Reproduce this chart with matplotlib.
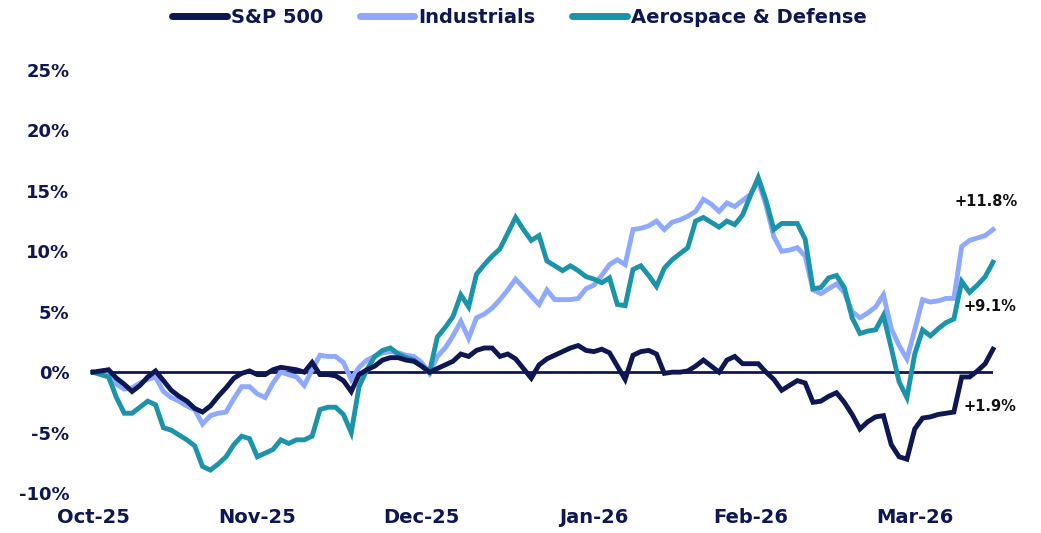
import matplotlib.pyplot as plt
import numpy as np

# cumulative return since 1 Oct 2025, in %, one value per trading day
sp500 = [0.0, 0.1, 0.2, -0.5, -1.0, -1.6, -1.1, -0.4, 0.1, -0.7,
         -1.5, -2.0, -2.4, -3.0, -3.3, -2.8, -2.0, -1.3, -0.5, -0.1,
         0.1, -0.2, -0.2, 0.2, 0.4, 0.3, 0.2, 0.0, 0.8, -0.2,
         -0.2, -0.3, -0.7, -1.6, -0.2, 0.2, 0.5, 1.0, 1.2, 1.2,
         1.0, 0.9, 0.5, 0.0, 0.3, 0.6, 0.9, 1.5, 1.3, 1.8,
         2.0, 2.0, 1.3, 1.5, 1.1, 0.3, -0.5, 0.6, 1.1, 1.4,
         1.7, 2.0, 2.2, 1.8, 1.7, 1.9, 1.6, 0.5, -0.6, 1.4,
         1.7, 1.8, 1.5, -0.1, 0.0, 0.0, 0.1, 0.5, 1.0, 0.5,
         0.0, 1.0, 1.3, 0.7, 0.7, 0.7, 0.0, -0.6, -1.5, -1.1,
         -0.7, -0.9, -2.5, -2.4, -2.0, -1.7, -2.5, -3.5, -4.7, -4.1,
         -3.7, -3.6, -6.0, -7.0, -7.2, -4.7, -3.8, -3.7, -3.5, -3.4,
         -3.3, -0.4, -0.4, 0.1, 0.7, 1.9]

industrials = [0.0, -0.1, -0.2, -1.0, -1.4, -1.3, -0.9, -0.6, -0.4, -1.6,
               -2.1, -2.4, -2.8, -3.1, -4.3, -3.6, -3.4, -3.3, -2.2, -1.2,
               -1.2, -1.8, -2.1, -0.9, 0.0, -0.2, -0.4, -1.1, 0.2, 1.4,
               1.3, 1.3, 0.8, -0.6, 0.4, 1.0, 1.3, 1.6, 1.7, 1.6,
               1.4, 1.3, 0.8, -0.1, 1.3, 2.0, 3.0, 4.2, 2.8, 4.5,
               4.8, 5.3, 6.0, 6.8, 7.7, 7.0, 6.3, 5.6, 6.8, 6.0,
               6.0, 6.0, 6.1, 6.9, 7.2, 8.0, 8.9, 9.3, 8.9, 11.8,
               11.9, 12.1, 12.5, 11.8, 12.4, 12.6, 12.9, 13.3, 14.3, 13.9,
               13.3, 14.0, 13.7, 14.2, 14.7, 15.8, 13.8, 11.2, 10.0, 10.1,
               10.3, 9.6, 6.8, 6.5, 6.9, 7.3, 6.6, 5.0, 4.5, 4.9,
               5.4, 6.4, 3.6, 2.2, 1.1, 3.5, 6.0, 5.8, 5.9, 6.1,
               6.1, 10.4, 10.9, 11.1, 11.3, 11.8]

aero_defense = [0.0, -0.2, -0.4, -2.1, -3.4, -3.4, -2.9, -2.4, -2.7, -4.6,
                -4.8, -5.2, -5.6, -6.1, -7.8, -8.1, -7.6, -7.0, -6.0, -5.3,
                -5.5, -7.0, -6.7, -6.4, -5.6, -5.9, -5.6, -5.6, -5.3, -3.1,
                -2.9, -2.9, -3.5, -5.0, -1.2, 0.2, 1.3, 1.8, 2.0, 1.5,
                1.2, 1.0, 0.5, 0.0, 2.9, 3.7, 4.6, 6.4, 5.4, 8.1,
                8.9, 9.6, 10.2, 11.5, 12.8, 11.8, 10.9, 11.3, 9.2, 8.8,
                8.4, 8.8, 8.4, 7.9, 7.7, 7.4, 7.8, 5.6, 5.5, 8.5,
                8.8, 8.0, 7.1, 8.6, 9.3, 9.8, 10.3, 12.5, 12.8, 12.4,
                12.0, 12.5, 12.2, 13.0, 14.6, 16.1, 14.2, 11.8, 12.3, 12.3,
                12.3, 11.0, 6.9, 7.0, 7.8, 8.0, 7.0, 4.5, 3.2, 3.4,
                3.5, 4.7, 2.0, -0.8, -2.1, 1.5, 3.5, 3.0, 3.6, 4.1,
                4.4, 7.5, 6.6, 7.2, 7.9, 9.1]

series_names = ["S&P 500", "Industrials", "Aerospace & Defense"]
month_labels = ["Oct-25", "Nov-25", "Dec-25", "Jan-26", "Feb-26", "Mar-26"]
month_pos = [0, 21, 42, 64, 84, 105]  # trading-day index of each label

navy = "#0E1752"
colors = ["#0E1752", "#8EA9FF", "#1B93A9"]
label_offsets = [(-2, -41), (-5, 20), (-2, -32)]  # points, for end labels

plt.rcParams['font.family'] = ['DejaVu Sans']
plt.rcParams['font.weight'] = 'bold'

fig = plt.figure(figsize=(10.41, 5.33), dpi=100)
ax = fig.add_axes([0.0893, 0.075, 0.8646, 0.7937])

x = np.arange(len(sp500))
ax.axhline(0, color=navy, lw=2.0, zorder=1)

all_series = [sp500, industrials, aero_defense]
lines = []
for name, vals, col in zip(series_names, all_series, colors):
    ln, = ax.plot(x, vals, color=col, lw=3.5, label=name,
                  solid_joinstyle='miter', clip_on=False, zorder=3)
    lines.append(ln)

# the S&P line sits on top of the others at the start
lines[0].set_zorder(4)

for vals, off in zip(all_series, label_offsets):
    ax.annotate(f"+{vals[-1]:.1f}%", xy=(x[-1], vals[-1]), xytext=off,
                textcoords='offset points', ha='center', va='center',
                fontsize=10.5, fontweight='bold', color='#111111')

ax.set_xlim(0, len(sp500) - 1)
ax.set_ylim(-10, 25)
ax.set_yticks(np.arange(-10, 26, 5))
ax.set_yticklabels([f"{v}%" for v in range(-10, 26, 5)])
ax.set_xticks(month_pos)
ax.set_xticklabels(month_labels)

ax.tick_params(axis='both', length=0, labelcolor=navy)
ax.tick_params(axis='y', pad=17, labelsize=13)
ax.tick_params(axis='x', pad=11, labelsize=14)
for lab in ax.get_xticklabels() + ax.get_yticklabels():
    lab.set_fontweight('bold')
for s in ax.spines.values():
    s.set_visible(False)

fig.legend(handles=lines, loc='center', bbox_to_anchor=(0.499, 0.967), ncol=3,
           frameon=False, fontsize=14, handlelength=2.8, handletextpad=0.2,
           columnspacing=1.9, labelcolor=navy)
for t in fig.legends[0].get_texts():
    t.set_fontweight('bold')
for h in fig.legends[0].legend_handles:
    h.set_linewidth(5)
    h.set_solid_capstyle('round')

fig.savefig("out.png", dpi=100)
